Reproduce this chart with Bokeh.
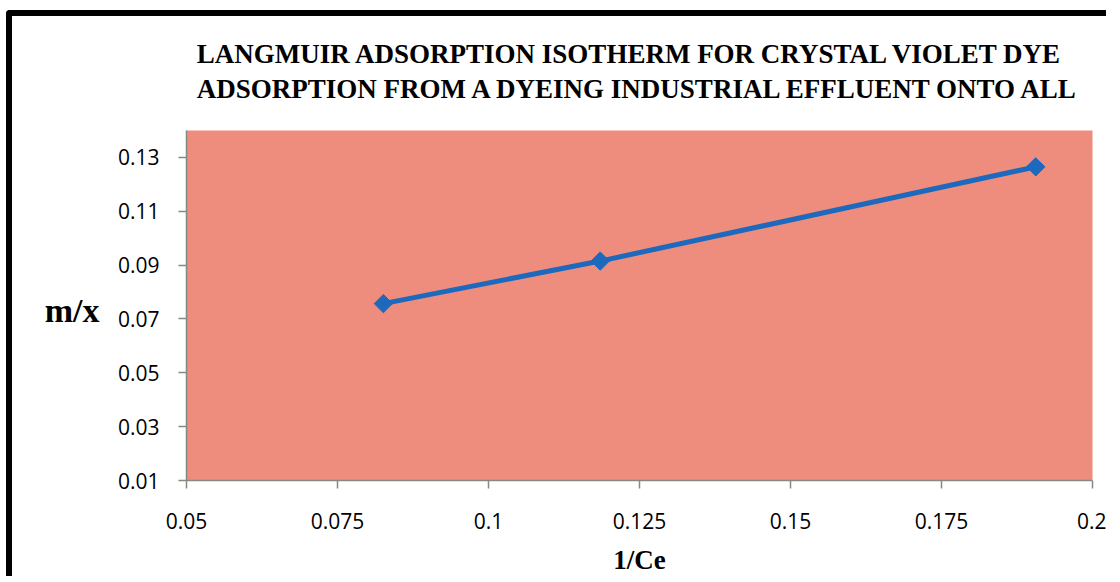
from bokeh.plotting import figure
from bokeh.models import Range1d, FixedTicker, LinearAxis, Title
from bokeh.embed import file_html
from bokeh.resources import INLINE
import math

# ---- data ----
inv_ce = [0.0826, 0.1185, 0.1906]
m_over_x = [0.0757, 0.0915, 0.1265]

x_ticks = [0.05, 0.075, 0.1, 0.125, 0.15, 0.175, 0.2]
x_tick_labels = ["0.05", "0.075", "0.1", "0.125", "0.15", "0.175", "0.2"]
y_ticks = [0.01, 0.03, 0.05, 0.07, 0.09, 0.11, 0.13]
y_tick_labels = ["0.01", "0.03", "0.05", "0.07", "0.09", "0.11", "0.13"]

title_lines = ["LANGMUIR ADSORPTION ISOTHERM FOR CRYSTAL VIOLET DYE",
               "ADSORPTION FROM A DYEING INDUSTRIAL EFFLUENT ONTO ALL"]
x_label = "1/Ce"
y_label = "m/x"
y_label_at = 0.073

PINK = "#EE8D7D"
BLUE = "#1C69BE"
AXIS = "#858a80"
SERIF = "Liberation Serif"

p = figure(width=1100, height=566, output_backend="svg", toolbar_location=None,
           x_range=Range1d(0.05, 0.2), y_range=Range1d(0.01, 0.14),
           min_border_left=174, min_border_right=20, min_border_top=114,
           min_border_bottom=102)
p.styles = {"border-left": "6px solid black", "border-top": "6px solid black",
            "border-top-left-radius": "4px",
            "margin-left": "6px", "margin-top": "10px"}
p.background_fill_color = PINK
p.border_fill_color = "white"
p.outline_line_color = None
p.xgrid.visible = False
p.ygrid.visible = False

for ax in (p.xaxis[0], p.yaxis[0]):
    ax.axis_line_color = AXIS
    ax.axis_line_width = 1.5
    ax.major_tick_line_color = AXIS
    ax.major_tick_line_width = 1.5
    ax.major_tick_in = 0
    ax.major_tick_out = 8
    ax.minor_tick_line_color = None
    ax.major_label_text_font = "Open Sans"
    ax.major_label_text_font_size = "21px"
    ax.major_label_text_color = "black"

p.xaxis.ticker = FixedTicker(ticks=x_ticks)
p.xaxis.major_label_overrides = {t: l for t, l in zip(x_ticks, x_tick_labels)}
p.xaxis.major_label_standoff = 24
p.xaxis.axis_label = x_label
p.xaxis.axis_label_text_font = SERIF
p.xaxis.axis_label_text_font_style = "bold"
p.xaxis.axis_label_text_font_size = "27px"
p.xaxis.axis_label_text_color = "black"
p.xaxis.axis_label_standoff = 13

p.yaxis.ticker = FixedTicker(ticks=y_ticks)
p.yaxis.major_label_overrides = {t: l for t, l in zip(y_ticks, y_tick_labels)}
p.yaxis.major_label_standoff = 19

# horizontal y-axis label drawn as an extra (tickless) axis
ylab_axis = LinearAxis(ticker=FixedTicker(ticks=[y_label_at]),
                       major_label_overrides={y_label_at: y_label})
ylab_axis.axis_line_color = None
ylab_axis.major_tick_line_color = None
ylab_axis.minor_tick_line_color = None
ylab_axis.major_tick_out = 0
ylab_axis.major_tick_in = 0
ylab_axis.major_label_standoff = 15
ylab_axis.major_label_text_font = SERIF
ylab_axis.major_label_text_font_style = "bold"
ylab_axis.major_label_text_font_size = "34px"
ylab_axis.major_label_text_color = "black"
p.add_layout(ylab_axis, "left")

p.line(inv_ce, m_over_x, line_color=BLUE, line_width=5)
p.scatter(inv_ce, m_over_x, marker="square", angle=math.pi / 4, size=13,
          fill_color=BLUE, line_color=BLUE)

# title: spacer closest to the frame, then the two-line title
p.add_layout(Title(text=" ", text_font_size="9px"), "above")
p.add_layout(Title(text="\n".join(title_lines), align="center", offset=-8,
                   text_font=SERIF, text_font_style="bold",
                   text_font_size="27px", text_color="black",
                   text_line_height=1.15), "above")

open("out.html", "w").write(file_html(p, INLINE))
